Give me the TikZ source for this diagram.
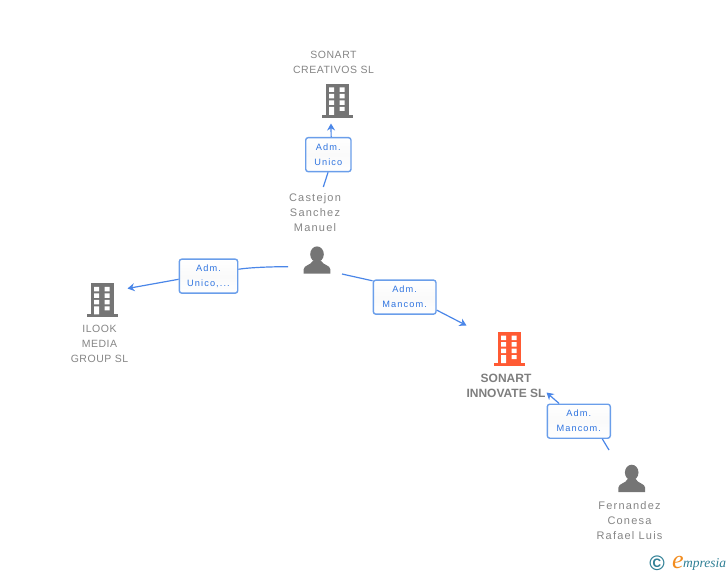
\documentclass[tikz,border=0pt]{standalone}
\usepackage{fontspec}
\setmainfont{Liberation Sans}
\newfontfamily\spaced[LetterSpace=5]{Liberation Sans}
\newfontfamily\spacedwide[LetterSpace=11]{Liberation Sans}
\newfontfamily\spacedrole[LetterSpace=12]{Liberation Sans}
\newfontfamily\logofont{Liberation Serif}
\usetikzlibrary{arrows.meta}
\definecolor{icongray}{HTML}{757575}
\definecolor{textgray}{HTML}{858585}
\definecolor{hotred}{HTML}{FF5A33}
\definecolor{linkblue}{HTML}{4A86E8}
\definecolor{boxblue}{HTML}{6A9EEA}
\definecolor{labelblue}{HTML}{2F74E0}
\definecolor{logoteal}{HTML}{2F7F95}
\definecolor{logoorange}{HTML}{F28C1E}
\tikzset{
  pics/building/.style={code={
    \fill[#1] (-11,0) rectangle (11.5,31);
    \fill[#1] (-15.5,31) rectangle (15.5,34);
    \fill[white] (-8,3.5) rectangle (-3,8) (2.5,3.5) rectangle (7.5,8)
                 (-8,10) rectangle (-3,14.5) (2.5,10) rectangle (7.5,14.5)
                 (-8,16.5) rectangle (-3,21) (2.5,16.5) rectangle (7.5,21)
                 (-8,23) rectangle (-3,31) (2.5,23) rectangle (7.5,27);
  }},
  pics/person/.style={code={
    \fill[icongray] (0,7.5) ellipse (6.8 and 7.8);
    \fill[icongray] (-13.3,27) -- (-13.3,22.5)
       .. controls (-13.3,18.5) and (-6,18.5) .. (-4,14)
       -- (4,14)
       .. controls (6,18.5) and (13.3,18.5) .. (13.3,22.5)
       -- (13.3,27) -- cycle;
  }},
  caption/.style={text=textgray,align=center,font=\fontsize{10.5}{15}\spaced\selectfont,inner sep=0pt},
  personcaption/.style={text=textgray,align=center,font=\fontsize{11}{15}\spacedwide\selectfont,inner sep=0pt},
  hotcaption/.style={text=textgray!95!black,align=center,font=\fontsize{12}{15}\selectfont\bfseries,inner sep=0pt},
  rolebox/.style={draw=boxblue,line width=1.4pt,rounded corners=2.5pt,top color=white,bottom color=white,middle color=black!2,
    text=labelblue,align=center,font=\fontsize{9.2}{15}\spacedrole\selectfont,inner sep=0pt,minimum height=34pt},
  link/.style={draw=linkblue,line width=1.2pt},
  arrowlink/.style={link,-{Stealth[length=7pt,width=8pt]}},
}
\begin{document}
\begin{tikzpicture}[x=1pt,y=-1pt]
\useasboundingbox (0,0) rectangle (728,575);

% icons
\pic at (337,84) {building=icongray};
\pic at (102,283.3) {building=icongray};
\pic at (509,332) {building=hotred};
\pic at (317,246.7) {person};
\pic at (631.7,465) {person};

% captions
\node[caption] (creativos) at (333.5,62.5) {SONART\\CREATIVOS SL};
\node[personcaption] (castejon) at (315,213) {Castejon\\Sanchez\\Manuel};
\node[caption] (ilook) at (99.5,344) {ILOOK\\MEDIA\\GROUP SL};
\node[hotcaption] (innovate) at (506,385.5) {SONART\\INNOVATE SL};
\node[personcaption] (fernandez) at (629.5,521) {Fernandez\\Conesa\\Rafael Luis};

% role boxes
\node[rolebox,minimum width=45.3pt] (roleA) at (328.35,154.65) {Adm.\\Unico};
\node[rolebox,minimum width=58.4pt] (roleB) at (208.5,276.15) {Adm.\\Unico,...};
\node[rolebox,minimum width=62.7pt] (roleC) at (404.65,297.15) {Adm.\\Mancom.};
\node[rolebox,minimum width=63pt] (roleD) at (578.8,421.2) {Adm.\\Mancom.};

% free connector ends
\coordinate (fromA) at (323.3,187);
\coordinate (toA) at (331,123.5);
\coordinate (fromB) at (288,266.7);
\coordinate (toB) at (127.5,288.5);
\coordinate (fromC) at (342,274);
\coordinate (toC) at (466.5,325.5);
\coordinate (fromD) at (609,450);
\coordinate (toD) at (546.5,392.5);

% connectors
\draw[link] (fromA) -- (roleA.-91);
\draw[arrowlink] (roleA.81.3) -- (toA);
\draw[link] (fromB) .. controls (270,266.7) and (250,267.5) .. (roleB.13.8);
\draw[arrowlink] (roleB.186.9) -- (toB);
\draw[link] (fromC) -- (roleC.153.8);
\draw[arrowlink] (roleC.-22.3) -- (toC);
\draw[link] (fromD) -- (roleD.-37);
\draw[arrowlink] (roleD.138.5) -- (toD);

% logo
\node[text=logoteal,font=\fontsize{21}{21}\selectfont\bfseries,inner sep=0pt] (copyright) at (657,563.5) {©};
\node[text=logoorange,font=\fontsize{26}{26}\logofont\itshape\selectfont,inner sep=0pt] (logoe) at (678,562.5) {e};
\node[text=logoteal,font=\fontsize{13.5}{13.5}\logofont\itshape\selectfont,inner sep=0pt,anchor=west] (logotext) at (683,564) {mpresia};
\end{tikzpicture}
\end{document}
